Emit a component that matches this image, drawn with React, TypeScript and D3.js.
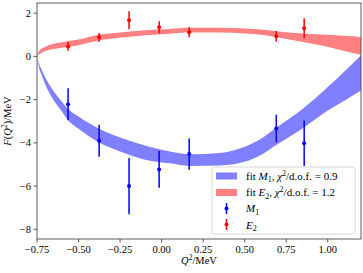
import React from "react";
import * as d3 from "d3";

const W = 363;
const H = 273;
const MARGIN = { top: 3, right: 2, bottom: 34, left: 37 };
const FONT = "'Liberation Serif', 'DejaVu Serif', serif";

// measured points
const pointX = [-0.563, -0.376, -0.196, -0.015, 0.166, 0.69, 0.858];
const m1Y = [-2.22, -3.9, -6.0, -5.23, -4.52, -3.34, -4.02];
const m1Err = [0.74, 0.74, 1.3, 0.85, 0.72, 0.64, 1.05];
const e2Y = [0.46, 0.88, 1.67, 1.35, 1.12, 0.93, 1.3];
const e2Err = [0.2, 0.2, 0.42, 0.28, 0.23, 0.25, 0.46];

// fit bands (lower / upper edge)
const bandX = [-0.75, -0.74, -0.72, -0.7, -0.66, -0.6, -0.563, -0.5, -0.376, -0.25, -0.1, 0.05, 0.17, 0.35, 0.5, 0.6, 0.685, 0.85, 1.0, 1.1, 1.2];
const m1Lo = [0, -0.45, -0.9, -1.3, -1.9, -2.55, -2.95, -3.35, -3.99, -4.4, -4.78, -4.95, -5.07, -5.05, -4.88, -4.55, -4.12, -3.32, -2.5, -2.05, -1.58];
const m1Hi = [0, -0.3, -0.65, -0.98, -1.5, -2.1, -2.43, -2.78, -3.35, -3.75, -4.12, -4.4, -4.53, -4.47, -4.18, -3.8, -3.32, -2.42, -1.42, -0.7, 0.05];
const e2Lo = [0, 0.08, 0.18, 0.25, 0.33, 0.4, 0.43, 0.52, 0.74, 0.86, 0.98, 1.05, 1.1, 1.1, 1.06, 1.0, 0.9, 0.67, 0.45, 0.25, 0.08];
const e2Hi = [0.02, 0.22, 0.36, 0.45, 0.56, 0.65, 0.71, 0.78, 1.0, 1.1, 1.21, 1.27, 1.32, 1.32, 1.29, 1.24, 1.16, 1.06, 1.0, 0.95, 0.9];

const xTicks = [-0.75, -0.5, -0.25, 0, 0.25, 0.5, 0.75, 1.0];
const yTicks = [-8, -6, -4, -2, 0, 2];

const BLUE = "#0000ff";
const RED = "#ff0000";
const BLUE_FILL = "#8080ff";
const RED_FILL = "#ff8080";

const fmt = (v: number, d: number) => {
  const s = Math.abs(v).toFixed(d);
  return v < 0 ? "\u2212" + s : s;
};

export default function App() {
  const x = d3
    .scaleLinear()
    .domain([-0.75, 1.2])
    .range([MARGIN.left, W - MARGIN.right]);
  const y = d3
    .scaleLinear()
    .domain([-8.45, 2.47])
    .range([H - MARGIN.bottom, MARGIN.top]);

  const area = (lo: number[], hi: number[]) =>
    d3
      .area<number>()
      .x((d) => x(d))
      .y0((_, i) => y(lo[i]))
      .y1((_, i) => y(hi[i]))
      .curve(d3.curveMonotoneX)(bandX)!;

  const left = MARGIN.left;
  const right = W - MARGIN.right;
  const top = MARGIN.top;
  const bottom = H - MARGIN.bottom;

  const bars = (ys: number[], errs: number[], color: string) =>
    pointX.map((px, i) => (
      <g key={i}>
        <line
          x1={x(px)}
          x2={x(px)}
          y1={y(ys[i] - errs[i])}
          y2={y(ys[i] + errs[i])}
          stroke={color}
          strokeWidth={1.5}
        />
        <circle cx={x(px)} cy={y(ys[i])} r={2} fill={color} />
      </g>
    ));

  const lx = 212;
  const ly = 167;

  return (
    <svg
      width={W}
      height={H}
      style={{ position: "absolute", left: 0, top: 0, background: "white" }}
      fontFamily={FONT}
    >
      <defs>
        <clipPath id="plot">
          <rect x={left} y={top} width={right - left} height={bottom - top} />
        </clipPath>
      </defs>
      <g clipPath="url(#plot)">
        <path d={area(m1Lo, m1Hi)} fill={BLUE_FILL} />
        <path d={area(e2Lo, e2Hi)} fill={RED_FILL} />
        {bars(m1Y, m1Err, BLUE)}
        {bars(e2Y, e2Err, RED)}
      </g>

      <rect
        x={left}
        y={top}
        width={right - left}
        height={bottom - top}
        fill="none"
        stroke="#333"
        strokeWidth={0.8}
      />

      {xTicks.map((t) => (
        <g key={t}>
          <line x1={x(t)} x2={x(t)} y1={bottom} y2={bottom + 3.5} stroke="#333" strokeWidth={0.8} />
          <text x={x(t)} y={bottom + 13.5} textAnchor="middle" fontSize={10.5}>
            {fmt(t, 2)}
          </text>
        </g>
      ))}
      {yTicks.map((t) => (
        <g key={t}>
          <line x1={left - 3.5} x2={left} y1={y(t)} y2={y(t)} stroke="#333" strokeWidth={0.8} />
          <text x={left - 6} y={y(t) + 3.6} textAnchor="end" fontSize={10.5}>
            {fmt(t, 0)}
          </text>
        </g>
      ))}

      <text x={(left + right) / 2} y={264} textAnchor="middle" fontSize={10.5}>
        <tspan fontStyle="italic">Q</tspan>
        <tspan dy={-4} fontSize={7.5}>2</tspan>
        <tspan dy={4}>/MeV</tspan>
      </text>
      <text
        transform={`translate(11,${(top + bottom) / 2}) rotate(-90)`}
        textAnchor="middle"
        fontSize={10.5}
      >
        <tspan fontStyle="italic">F</tspan>
        <tspan>(</tspan>
        <tspan fontStyle="italic">Q</tspan>
        <tspan dy={-4} fontSize={7.5}>2</tspan>
        <tspan dy={4}>)/MeV</tspan>
      </text>

      <rect
        x={lx}
        y={ly}
        width={143}
        height={67}
        rx={2}
        fill="white"
        fillOpacity={0.8}
        stroke="#cccccc"
        strokeWidth={0.8}
      />
      <rect x={216} y={172.5} width={21} height={7} fill={BLUE_FILL} />
      <rect x={216} y={189} width={21} height={7} fill={RED_FILL} />
      <line x1={226.5} x2={226.5} y1={203} y2={214} stroke={BLUE} strokeWidth={1.5} />
      <circle cx={226.5} cy={208.5} r={2} fill={BLUE} />
      <line x1={226.5} x2={226.5} y1={219} y2={230} stroke={RED} strokeWidth={1.5} />
      <circle cx={226.5} cy={224.5} r={2} fill={RED} />

      <g fontSize={11}>
        <text x={246} y={179.5}>
          fit <tspan fontStyle="italic">M</tspan>
          <tspan dy={2.5} fontSize={8}>1</tspan>
          <tspan dy={-2.5}>, </tspan>
          <tspan fontStyle="italic">χ</tspan>
          <tspan dy={-4} fontSize={8}>2</tspan>
          <tspan dy={4}>/d.o.f. = 0.9</tspan>
        </text>
        <text x={246} y={196}>
          fit <tspan fontStyle="italic">E</tspan>
          <tspan dy={2.5} fontSize={8}>2</tspan>
          <tspan dy={-2.5}>, </tspan>
          <tspan fontStyle="italic">χ</tspan>
          <tspan dy={-4} fontSize={8}>2</tspan>
          <tspan dy={4}>/d.o.f. = 1.2</tspan>
        </text>
        <text x={246} y={212}>
          <tspan fontStyle="italic">M</tspan>
          <tspan dy={2.5} fontSize={8}>1</tspan>
        </text>
        <text x={246} y={228.5}>
          <tspan fontStyle="italic">E</tspan>
          <tspan dy={2.5} fontSize={8}>2</tspan>
        </text>
      </g>
    </svg>
  );
}
